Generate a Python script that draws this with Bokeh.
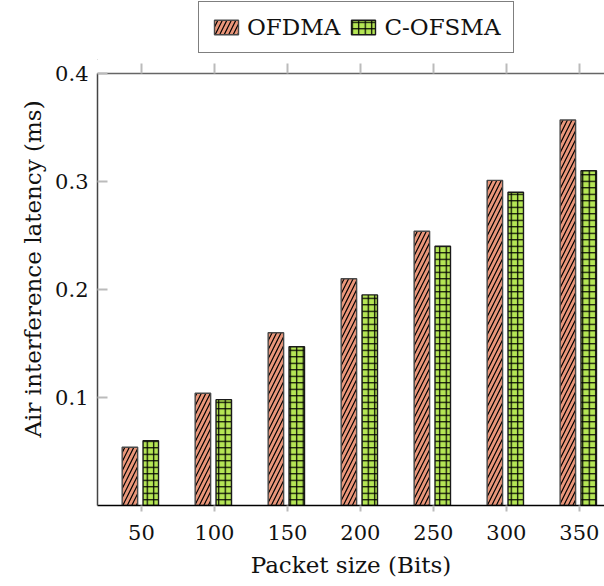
from bokeh.plotting import figure
from bokeh.layouts import column
from bokeh.models import (ColumnDataSource, FixedTicker, LinearAxis, Legend, LegendItem, Range1d, Title)
from bokeh.embed import file_html
from bokeh.resources import INLINE

packet_sizes = [50, 100, 150, 200, 250, 300, 350]
ofdma = [0.054, 0.104, 0.160, 0.210, 0.254, 0.301, 0.357]
c_ofsma = [0.060, 0.098, 0.147, 0.195, 0.240, 0.290, 0.310]
y_ticks = [0.1, 0.2, 0.3, 0.4]
series_names = ["OFDMA", "C-OFSMA"]
x_title = "Packet size (Bits)"
y_title = "Air interference latency (ms)"

FONT = "DejaVu Serif"
TXT = "#111111"
STYLE1 = dict(fill_color="#E9967A", line_color="#4a4a4a", line_width=1.4,
              hatch_pattern="/", hatch_color="black", hatch_weight=1.2, hatch_scale=9)
STYLE2 = dict(fill_color="#B5E655", line_color="#1a1a1a", line_width=1.4,
              hatch_pattern="+", hatch_color="black", hatch_weight=1.2, hatch_scale=6.5)

LEG_H = 60

src = ColumnDataSource(dict(
    x1=[v - 7.9 for v in packet_sizes],
    x2=[v + 6.4 for v in packet_sizes],
    ofdma=ofdma,
    cof=c_ofsma,
))

p = figure(width=604, height=586 - LEG_H, output_backend="svg", toolbar_location=None,
           x_range=Range1d(19.9, 367.2), y_range=Range1d(0, 0.4),
           min_border_left=97, min_border_right=0, min_border_top=73 - LEG_H,
           min_border_bottom=81)
p.outline_line_color = None
p.grid.visible = False

r1 = p.vbar(x="x1", top="ofdma", width=10.6, source=src, **STYLE1)
r2 = p.vbar(x="x2", top="cof", width=10.6, source=src, **STYLE2)

# x axis (bottom)
xa = p.xaxis[0]
xa.ticker = FixedTicker(ticks=packet_sizes)
xa.axis_label = x_title
xa.axis_label_text_font = FONT
xa.axis_label_text_font_style = "normal"
xa.axis_label_text_font_size = "23px"
xa.axis_label_text_color = TXT
xa.axis_label_standoff = 9
xa.major_label_text_font = FONT
xa.major_label_text_font_size = "21px"
xa.major_label_text_color = TXT
xa.major_label_standoff = 13
xa.major_tick_in = 0
xa.major_tick_out = 6
xa.major_tick_line_color = "#bbbbbb"
xa.major_tick_line_width = 2
xa.minor_tick_line_color = None
xa.axis_line_color = "black"
xa.axis_line_width = 1.5

# y axis (left)
ya = p.yaxis[0]
ya.ticker = FixedTicker(ticks=y_ticks)
ya.major_label_text_font = FONT
ya.major_label_text_font_size = "21px"
ya.major_label_text_color = TXT
ya.major_label_standoff = 9
ya.major_tick_in = 10
ya.major_tick_out = 0
ya.major_tick_line_color = "#bbbbbb"
ya.major_tick_line_width = 2
ya.minor_tick_line_color = None
ya.axis_line_color = "#444444"
ya.axis_line_width = 1.5

# y axis title (offset upward like the reference)
yt = Title(text=y_title, align="left", offset=68, text_font=FONT,
           text_font_size="23px", text_font_style="normal", text_color=TXT,
           standoff=14)
p.add_layout(yt, "left")

# top axis (mirrored ticks, no labels)
ta = LinearAxis(ticker=FixedTicker(ticks=packet_sizes),
                major_label_overrides={v: "" for v in packet_sizes})
ta.major_label_standoff = 0
ta.major_label_text_font_size = "1px"
ta.major_tick_in = 0
ta.major_tick_out = 10
ta.major_tick_line_color = "#bbbbbb"
ta.major_tick_line_width = 2
ta.minor_tick_line_color = None
ta.axis_line_color = "#666666"
ta.axis_line_width = 1.5
p.add_layout(ta, "above")

# legend strip on top
lf = figure(width=604, height=LEG_H, output_backend="svg", toolbar_location=None,
            x_range=Range1d(0, 1), y_range=Range1d(0, 1),
            min_border=0)
lf.axis.visible = False
lf.grid.visible = False
lf.outline_line_color = None
dummy = ColumnDataSource(dict(x=[-10], top=[-10]))
l1 = lf.vbar(x="x", top="top", width=0.1, source=dummy, **STYLE1)
l2 = lf.vbar(x="x", top="top", width=0.1, source=dummy, **STYLE2)

legend = Legend(items=[LegendItem(label=series_names[0], renderers=[l1]),
                       LegendItem(label=series_names[1], renderers=[l2])],
                orientation="horizontal", location=(101, 7),
                label_text_font=FONT, label_text_font_size="23px",
                label_text_color=TXT,
                glyph_width=30, glyph_height=18, label_standoff=6, spacing=8,
                padding=12, margin=0,
                border_line_color="black", border_line_width=1.5,
                background_fill_alpha=1.0)
lf.add_layout(legend, "center")

layout = column(lf, p, spacing=0)
open("out.html", "w").write(file_html(layout, INLINE))
